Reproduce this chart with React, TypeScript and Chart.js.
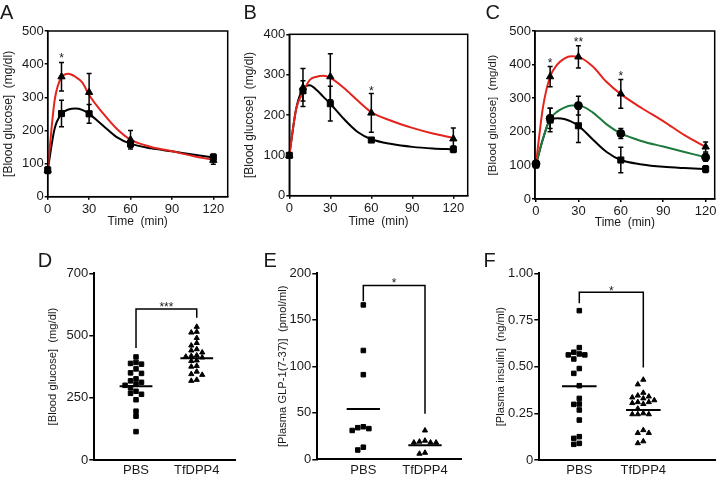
import React, { useEffect, useRef } from 'react';
import { Chart, registerables } from 'chart.js';
Chart.register(...registerables);

const FONT = '"Liberation Sans", Arial, Helvetica, sans-serif';
const INK = '#1a1a1a';
const RED = '#e5231d';
const GREEN = '#1d7a3c';
const BLACK = '#000000';

// ---------------- top row (glucose tolerance curves) ----------------
const TIMES = [0, 10, 30, 60, 120];
const FIT_TIMES = [0, 5, 10, 15, 20, 25, 30, 40, 50, 60, 75, 90, 105, 120];
const TIME_TICKS = [0, 30, 60, 90, 120];
const GLU_TITLE = '[Blood glucose]  (mg/dl)';
const TIME_TITLE = 'Time  (min)';

// Panel A
const A_CTRL = [80, 251, 250, 159, 119];
const A_CTRL_ERR = [10, 40, 28, 10, 10];
const A_TREAT = [80, 362, 315, 172, 110];
const A_TREAT_ERR = [8, 43, 57, 28, 12];
const A_CTRL_FIT = [80, 205, 250, 263, 266, 262, 250, 215, 180, 160, 146, 137, 127, 118];
const A_TREAT_FIT = [80, 290, 360, 371, 362, 345, 307, 252, 205, 172, 150, 137, 123, 111];
const A_Y_TICKS = [0, 100, 200, 300, 400, 500];
const A_STAR_T = [10];
const A_STAR_V = [428];
const A_STAR_TXT = ['*'];

// Panel B
const B_CTRL = [100, 260, 228, 138, 115];
const B_CTRL_ERR = [5, 25, 43, 5, 8];
const B_TREAT = [100, 268, 295, 205, 141];
const B_TREAT_ERR = [5, 47, 57, 48, 27];
const B_CTRL_FIT = [100, 215, 265, 274, 262, 245, 228, 190, 158, 140, 128, 121, 117, 115];
const B_TREAT_FIT = [100, 215, 256, 287, 295, 297, 292, 267, 236, 207, 185, 168, 154, 143];
const B_Y_TICKS = [0, 100, 200, 300, 400];
const B_STAR_T = [60];
const B_STAR_V = [267];
const B_STAR_TXT = ['*'];

// Panel C
const C_CTRL = [102, 235, 218, 116, 89];
const C_CTRL_ERR = [10, 35, 50, 38, 10];
const C_MID = [105, 240, 278, 195, 124];
const C_MID_ERR = [8, 30, 28, 15, 12];
const C_TREAT = [105, 364, 423, 313, 155];
const C_TREAT_ERR = [8, 30, 33, 43, 15];
const C_CTRL_FIT = [102, 180, 235, 240, 238, 230, 218, 178, 140, 116, 103, 96, 92, 89];
const C_MID_FIT = [105, 180, 238, 260, 272, 278, 278, 258, 222, 195, 172, 156, 140, 124];
const C_TREAT_FIT = [105, 275, 364, 400, 418, 425, 423, 395, 348, 312, 270, 232, 190, 155];
const C_Y_TICKS = [0, 100, 200, 300, 400, 500];
const C_STAR_T = [10, 30, 60];
const C_STAR_V = [412, 476, 376];
const C_STAR_TXT = ['*', '**', '*'];

// ---------------- bottom row (dot plots) ----------------
const GROUPS = ['PBS', 'TfDPP4'];

const D_PBS = [414, 392, 388, 385, 366, 350, 348, 326, 318, 312, 305, 300, 290, 276, 268, 264, 242, 196, 176, 114];
const D_TF = [535, 515, 512, 490, 470, 460, 445, 440, 432, 420, 418, 415, 412, 400, 398, 378, 375, 355, 345, 342, 322, 318];
const D_MEANS = [296, 409];
const D_Y_TICKS = [0, 250, 500, 750];
const D_Y_LABELS = ['0', '250', '500', '700'];
const D_BRACKET = { y1: 450, top: 607, y2: 571, text: '***', textY: 625 };

const E_PBS = [166, 117, 91, 35, 33, 31, 34, 10, 13];
const E_TF = [31, 18, 18, 18, 19, 20, 7, 6];
const E_MEANS = [54, 15];
const E_Y_TICKS = [0, 50, 100, 150, 200];
const E_Y_LABELS = ['0', '50', '100', '150', '200'];
const E_BRACKET = { y1: 170, top: 187, y2: 49, text: '*', textY: 193 };

const F_PBS = [0.8, 0.602, 0.577, 0.568, 0.563, 0.563, 0.541, 0.49, 0.464, 0.398, 0.33, 0.3, 0.298, 0.268, 0.214, 0.125, 0.116, 0.089, 0.084];
const F_TF = [0.43, 0.405, 0.36, 0.345, 0.34, 0.335, 0.33, 0.32, 0.31, 0.31, 0.305, 0.3, 0.275, 0.25, 0.245, 0.245, 0.245, 0.16, 0.145, 0.145, 0.1, 0.09];
const F_MEANS = [0.395, 0.268];
const F_Y_TICKS = [0, 0.25, 0.5, 0.75, 1.0];
const F_Y_LABELS = ['0', '0.25', '0.50', '0.75', '1.00'];
const F_BRACKET = { y1: 0.839, top: 0.898, y2: 0.496, text: '*', textY: 0.923 };

// ---------------- helpers ----------------
const font = (size: number) => ({ family: FONT, size, lineHeight: 1.2 });

function swarmOffsets(values: number[], thr: number, step: number): number[] {
  const order = values.map((_, i) => i).sort((a, b) => values[b] - values[a]);
  const placed: { v: number; c: number }[] = [];
  const out = values.map(() => 0);
  for (const i of order) {
    const v = values[i];
    for (let k = 0; k < 40; k++) {
      const c = k === 0 ? 0 : k % 2 === 1 ? -(k + 1) / 2 : k / 2;
      if (!placed.some((p) => p.c === c && Math.abs(p.v - v) < thr)) {
        placed.push({ v, c });
        out[i] = c * step;
        break;
      }
    }
  }
  return out;
}

const framePlugin = {
  id: 'frame',
  afterDraw(chart: any) {
    const { ctx, chartArea: a } = chart;
    ctx.save();
    ctx.strokeStyle = BLACK;
    ctx.lineWidth = 1.5;
    ctx.strokeRect(a.left, a.top, a.right - a.left, a.bottom - a.top);
    ctx.restore();
  },
};

const errorBarPlugin = {
  id: 'errorBars',
  afterDatasetsDraw(chart: any) {
    const { ctx } = chart;
    const xs = chart.scales.x;
    const ys = chart.scales.y;
    chart.data.datasets.forEach((ds: any) => {
      if (!ds.errors) return;
      ctx.save();
      ctx.strokeStyle = BLACK;
      ctx.lineWidth = 1.5;
      ds.data.forEach((p: any, j: number) => {
        const e = ds.errors[j];
        if (!e) return;
        const x = xs.getPixelForValue(p.x);
        const y1 = ys.getPixelForValue(p.y - e);
        const y2 = ys.getPixelForValue(p.y + e);
        const cap = 2.5;
        ctx.beginPath();
        ctx.moveTo(x, y1);
        ctx.lineTo(x, y2);
        ctx.moveTo(x - cap, y1);
        ctx.lineTo(x + cap, y1);
        ctx.moveTo(x - cap, y2);
        ctx.lineTo(x + cap, y2);
        ctx.stroke();
      });
      ctx.restore();
    });
  },
};

type Star = { x: number; y: number; text: string };
type Bracket = { y1: number; top: number; y2: number; text: string; textY: number };

function annotPlugin(stars: Star[], bracket?: Bracket) {
  return {
    id: 'annot',
    afterDatasetsDraw(chart: any) {
      const { ctx } = chart;
      const xs = chart.scales.x;
      const ys = chart.scales.y;
      ctx.save();
      ctx.fillStyle = INK;
      ctx.textAlign = 'center';
      ctx.textBaseline = 'alphabetic';
      const fs = 12;
      ctx.font = `${fs}px ${FONT}`;
      const all = stars.slice();
      if (bracket) {
        ctx.strokeStyle = BLACK;
        ctx.lineWidth = 1.5;
        ctx.beginPath();
        ctx.moveTo(xs.getPixelForValue(1), ys.getPixelForValue(bracket.y1));
        ctx.lineTo(xs.getPixelForValue(1), ys.getPixelForValue(bracket.top));
        ctx.lineTo(xs.getPixelForValue(2), ys.getPixelForValue(bracket.top));
        ctx.lineTo(xs.getPixelForValue(2), ys.getPixelForValue(bracket.y2));
        ctx.stroke();
        all.push({ x: 1.5, y: bracket.textY, text: bracket.text });
      }
      for (const s of all) {
        ctx.fillText(s.text, xs.getPixelForValue(s.x), ys.getPixelForValue(s.y) + 0.57 * fs);
      }
      ctx.restore();
    },
  };
}

type Series = { values: number[]; errors: number[]; fit: number[]; color: string; marker: string; radius: number };

function topConfig(o: {
  series: Series[];
  yMax: number;
  yTicks: number[];
  xMin: number;
  xMax: number;
  yW: number;
  padTop: number;
  padRight: number;
  xH: number;
  yTitleSize: number;
  yTitlePad: number;
  xTitlePad: number;
  stars: Star[];
}) {
  const datasets: any[] = [];
  o.series.forEach((s) => {
    datasets.push({
      data: TIMES.map((t, i) => ({ x: t, y: s.values[i] })),
      errors: s.errors,
      pointStyle: s.marker,
      pointRadius: s.radius,
      backgroundColor: BLACK,
      borderColor: BLACK,
      borderWidth: 1,
      showLine: false,
      clip: false,
      order: 0,
    });
  });
  o.series.forEach((s) => {
    datasets.push({
      data: FIT_TIMES.map((t, i) => ({ x: t, y: s.fit[i] })),
      borderColor: s.color,
      backgroundColor: s.color,
      borderWidth: 2,
      pointRadius: 0,
      showLine: true,
      cubicInterpolationMode: 'monotone',
      clip: false,
      order: 1,
    });
  });
  return {
    type: 'scatter',
    data: { datasets },
    plugins: [framePlugin, errorBarPlugin, annotPlugin(o.stars)],
    options: {
      responsive: false,
      animation: false,
      devicePixelRatio: 1,
      layout: { padding: { left: 0, top: o.padTop, right: o.padRight, bottom: 0 } },
      plugins: { legend: { display: false }, tooltip: { enabled: false } },
      scales: {
        x: {
          type: 'linear',
          min: o.xMin,
          max: o.xMax,
          afterBuildTicks: (s: any) => {
            s.ticks = TIME_TICKS.map((v) => ({ value: v }));
          },
          afterFit: (s: any) => {
            s.height = o.xH;
          },
          ticks: { font: font(13), color: INK, padding: 2, maxRotation: 0, autoSkip: false, callback: (v: any, i: number) => String(TIME_TICKS[i]) },
          grid: { drawOnChartArea: false, drawTicks: true, tickLength: 3, color: BLACK, lineWidth: 1.5 },
          border: { display: true, color: BLACK, width: 1.5 },
          title: { display: true, text: TIME_TITLE, font: font(12), color: INK, padding: { top: 0, bottom: o.xTitlePad } },
        },
        y: {
          type: 'linear',
          min: 0,
          max: o.yMax,
          afterBuildTicks: (s: any) => {
            s.ticks = o.yTicks.map((v) => ({ value: v }));
          },
          afterFit: (s: any) => {
            s.width = o.yW;
          },
          ticks: { font: font(13), color: INK, padding: 1, autoSkip: false, callback: (v: any, i: number) => String(o.yTicks[i]) },
          grid: { drawOnChartArea: false, drawTicks: true, tickLength: 3, color: BLACK, lineWidth: 1.5 },
          border: { display: true, color: BLACK, width: 1.5 },
          title: { display: true, text: GLU_TITLE, font: font(o.yTitleSize), color: INK, padding: { top: o.yTitlePad, bottom: 0 } },
        },
      },
    },
  };
}

type Group = { values: number[]; mean: number; marker: string; radius: number };
const MEAN_HALF = 0.27;

function dotConfig(o: {
  groups: Group[];
  yMax: number;
  yTicks: number[];
  yLabels: string[];
  xMin: number;
  xMax: number;
  yW: number;
  padTop: number;
  padRight: number;
  xH: number;
  yTitle: string;
  yTitlePad: number;
  thr: number;
  step: number;
  bracket: Bracket;
}) {
  const datasets: any[] = [];
  o.groups.forEach((g, gi) => {
    const c = gi + 1;
    const offs = swarmOffsets(g.values, o.thr, o.step);
    datasets.push({
      data: g.values.map((v, i) => ({ x: c + offs[i], y: v })),
      pointStyle: g.marker,
      pointRadius: g.radius,
      backgroundColor: BLACK,
      borderColor: BLACK,
      borderWidth: 1,
      showLine: false,
      clip: false,
      order: 0,
    });
    datasets.push({
      data: [
        { x: c - MEAN_HALF, y: g.mean },
        { x: c + MEAN_HALF, y: g.mean },
      ],
      borderColor: BLACK,
      borderWidth: 2,
      pointRadius: 0,
      showLine: true,
      clip: false,
      order: 1,
    });
  });
  return {
    type: 'scatter',
    data: { datasets },
    plugins: [annotPlugin([], o.bracket)],
    options: {
      responsive: false,
      animation: false,
      devicePixelRatio: 1,
      layout: { padding: { left: 0, top: o.padTop, right: o.padRight, bottom: 0 } },
      plugins: { legend: { display: false }, tooltip: { enabled: false } },
      scales: {
        x: {
          type: 'linear',
          min: o.xMin,
          max: o.xMax,
          afterBuildTicks: (s: any) => {
            s.ticks = GROUPS.map((_, i) => ({ value: i + 1 }));
          },
          afterFit: (s: any) => {
            s.height = o.xH;
          },
          ticks: { font: font(13), color: INK, padding: 3, maxRotation: 0, autoSkip: false, callback: (v: any, i: number) => GROUPS[i] },
          grid: { drawOnChartArea: false, drawTicks: false, color: BLACK },
          border: { display: true, color: BLACK, width: 2 },
        },
        y: {
          type: 'linear',
          min: 0,
          max: o.yMax,
          afterBuildTicks: (s: any) => {
            s.ticks = o.yTicks.map((v) => ({ value: v }));
          },
          afterFit: (s: any) => {
            s.width = o.yW;
          },
          ticks: { font: font(13), color: INK, padding: 1, autoSkip: false, callback: (v: any, i: number) => o.yLabels[i] },
          grid: { drawOnChartArea: false, drawTicks: true, tickLength: 5, color: BLACK, lineWidth: 1.5 },
          border: { display: true, color: BLACK, width: 2 },
          title: { display: true, text: o.yTitle, font: font(11.2), color: INK, padding: { top: o.yTitlePad, bottom: 0 } },
        },
      },
    },
  };
}

const mkStars = (t: number[], v: number[], s: string[]): Star[] => t.map((x, i) => ({ x, y: v[i], text: s[i] }));

type PanelSpec = { id: string; left: number; top: number; width: number; height: number; make: () => any };

const PANELS: PanelSpec[] = [
  {
    id: 'A', left: 0, top: 0, width: 240, height: 240,
    make: () =>
      topConfig({
        series: [
          { values: A_TREAT, errors: A_TREAT_ERR, fit: A_TREAT_FIT, color: RED, marker: 'triangle', radius: 4.2 },
          { values: A_CTRL, errors: A_CTRL_ERR, fit: A_CTRL_FIT, color: BLACK, marker: 'rect', radius: 4.3 },
        ],
        yMax: 500, yTicks: A_Y_TICKS, xMin: 0, xMax: 130.4,
        yW: 47.7, padTop: 31, padRight: 12.3, xH: 43.3, yTitleSize: 12, yTitlePad: 1.3, xTitlePad: 11,
        stars: mkStars(A_STAR_T, A_STAR_V, A_STAR_TXT),
      }),
  },
  {
    id: 'B', left: 240, top: 0, width: 240, height: 240,
    make: () =>
      topConfig({
        series: [
          { values: B_TREAT, errors: B_TREAT_ERR, fit: B_TREAT_FIT, color: RED, marker: 'triangle', radius: 4.2 },
          { values: B_CTRL, errors: B_CTRL_ERR, fit: B_CTRL_FIT, color: BLACK, marker: 'rect', radius: 4.3 },
        ],
        yMax: 400, yTicks: B_Y_TICKS, xMin: 0, xMax: 130.5,
        yW: 49.3, padTop: 34.3, padRight: 12.3, xH: 44.3, yTitleSize: 12, yTitlePad: 2.3, xTitlePad: 11,
        stars: mkStars(B_STAR_T, B_STAR_V, B_STAR_TXT),
      }),
  },
  {
    id: 'C', left: 480, top: 0, width: 240, height: 240,
    make: () =>
      topConfig({
        series: [
          { values: C_TREAT, errors: C_TREAT_ERR, fit: C_TREAT_FIT, color: RED, marker: 'triangle', radius: 4.2 },
          { values: C_MID, errors: C_MID_ERR, fit: C_MID_FIT, color: GREEN, marker: 'circle', radius: 4 },
          { values: C_CTRL, errors: C_CTRL_ERR, fit: C_CTRL_FIT, color: BLACK, marker: 'rect', radius: 4.3 },
        ],
        yMax: 500, yTicks: C_Y_TICKS, xMin: -0.7, xMax: 126.4,
        yW: 55, padTop: 31, padRight: 5, xH: 41, yTitleSize: 11.5, yTitlePad: 5.8, xTitlePad: 10,
        stars: mkStars(C_STAR_T, C_STAR_V, C_STAR_TXT),
      }),
  },
  {
    id: 'D', left: 0, top: 240, width: 240, height: 242,
    make: () =>
      dotConfig({
        groups: [
          { values: D_PBS, mean: D_MEANS[0], marker: 'rect', radius: 3.2 },
          { values: D_TF, mean: D_MEANS[1], marker: 'triangle', radius: 3 },
        ],
        yMax: 750, yTicks: D_Y_TICKS, yLabels: D_Y_LABELS, xMin: 0.313, xMax: 2.63,
        yW: 94.3, padTop: 33.3, padRight: 5, xH: 22,
        yTitle: GLU_TITLE, yTitlePad: 46.3, thr: 20, step: 0.09, bracket: D_BRACKET,
      }),
  },
  {
    id: 'E', left: 240, top: 240, width: 240, height: 242,
    make: () =>
      dotConfig({
        groups: [
          { values: E_PBS, mean: E_MEANS[0], marker: 'rect', radius: 3.2 },
          { values: E_TF, mean: E_MEANS[1], marker: 'triangle', radius: 3 },
        ],
        yMax: 200, yTicks: E_Y_TICKS, yLabels: E_Y_LABELS, xMin: 0.254, xMax: 2.595,
        yW: 77.3, padTop: 33.3, padRight: 18.3, xH: 22.7,
        yTitle: '[Plasma GLP-1(7-37)]  (pmol/ml)', yTitlePad: 35.8, thr: 5.5, step: 0.09, bracket: E_BRACKET,
      }),
  },
  {
    id: 'F', left: 480, top: 240, width: 240, height: 242,
    make: () =>
      dotConfig({
        groups: [
          { values: F_PBS, mean: F_MEANS[0], marker: 'rect', radius: 3.2 },
          { values: F_TF, mean: F_MEANS[1], marker: 'triangle', radius: 3 },
        ],
        yMax: 1.0, yTicks: F_Y_TICKS, yLabels: F_Y_LABELS, xMin: 0.375, xMax: 3.12,
        yW: 59.3, padTop: 33.3, padRight: 5, xH: 22,
        yTitle: '[Plasma insulin]  (ng/ml)', yTitlePad: 14.3, thr: 0.027, step: 0.086, bracket: F_BRACKET,
      }),
  },
];

const LETTERS = [
  { t: 'A', x: 0, y: 2.4 },
  { t: 'B', x: 243.5, y: 2.4 },
  { t: 'C', x: 485.5, y: 2.4 },
  { t: 'D', x: 37.7, y: 250 },
  { t: 'E', x: 263.4, y: 250 },
  { t: 'F', x: 483.4, y: 250 },
];

function ChartPanel({ spec }: { spec: PanelSpec }) {
  const ref = useRef<HTMLCanvasElement>(null);
  useEffect(() => {
    const chart = new Chart(ref.current as HTMLCanvasElement, spec.make());
    return () => chart.destroy();
  }, [spec]);
  return (
    <canvas
      ref={ref}
      width={spec.width}
      height={spec.height}
      style={{ position: 'absolute', left: spec.left, top: spec.top, width: spec.width, height: spec.height }}
    />
  );
}

export default function App() {
  return (
    <div style={{ position: 'absolute', left: 0, top: 0, width: 720, height: 482, background: '#fff', overflow: 'hidden' }}>
      {PANELS.map((p) => (
        <ChartPanel key={p.id} spec={p} />
      ))}
      {LETTERS.map((l) => (
        <div
          key={l.t}
          style={{ position: 'absolute', left: l.x, top: l.y, fontFamily: FONT, fontSize: 20, lineHeight: '20px', color: INK }}
        >
          {l.t}
        </div>
      ))}
    </div>
  );
}
